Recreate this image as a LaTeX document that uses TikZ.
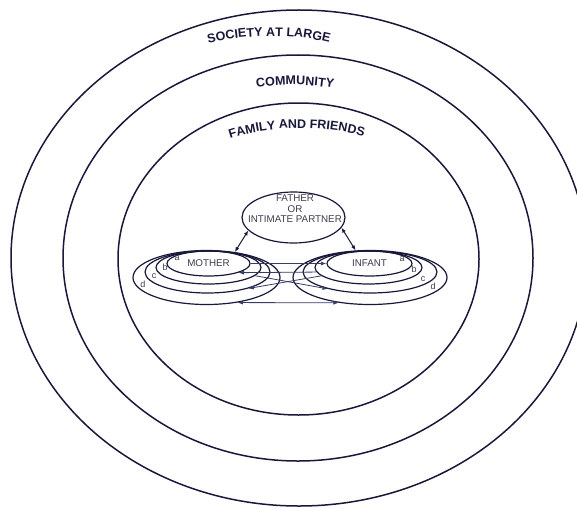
\documentclass[tikz,border=0pt]{standalone}
\usepackage{fontspec}
\setmainfont{Liberation Sans}
\usetikzlibrary{shapes,arrows.meta,positioning,decorations.text}
\definecolor{inknavy}{RGB}{24,24,58}
\definecolor{textgray}{RGB}{60,60,75}
\definecolor{linkgray}{RGB}{55,60,100}

\begin{document}
\begin{tikzpicture}[x=1pt,y=-1pt,
    ring/.style={ellipse, draw=inknavy, line width=1.5pt, inner sep=0pt},
    level/.style={ellipse, draw=inknavy, line width=1.2pt, inner sep=0pt,
                  font=\fontsize{9.8}{11}\selectfont, text=textgray},
    tag/.style={font=\fontsize{9}{10}\selectfont, text=textgray, inner sep=0pt},
    link/.style={draw=linkgray, line width=0.8pt, >={Latex[length=5.5pt,width=4pt]}},
    bond/.style={draw=inknavy, line width=1pt, <->, >={Latex[length=5pt,width=4pt]}},
    title/.style={decorate, decoration={text along path, text align=center,
                  text color=inknavy, text={|\fontsize{12.5}{14}\selectfont\bfseries|#1}}}]
    \useasboundingbox (0,0) rectangle (577,508);

    \node[ring, minimum width=576pt, minimum height=496pt] (society) at (299,258) {};
    \node[ring, minimum width=470pt, minimum height=406pt] (community) at (298,258) {};
    \node[ring, minimum width=361pt, minimum height=312pt] (family) at (298.5,259) {};

    \path[title=SOCIETY AT LARGE] (200,46) .. controls (240,33) and (300,33) .. (338,45);
    \path[title=COMMUNITY] (245,90) .. controls (275,83) and (315,83) .. (345,91);
    \path[title=FAMILY AND FRIENDS] (208,148) .. controls (256,122) and (339,122) .. (386,145);

    \node[ring, line width=1.2pt, minimum width=103pt, minimum height=51pt] (father) at (293.5,217.5) {};
    \node[align=center, font=\fontsize{9.8}{10.5}\selectfont, text=textgray, inner sep=0pt]
        (fathertext) at (295,209) {FATHER\\OR\\INTIMATE PARTNER};

    \node[level, minimum width=83pt, minimum height=25pt] (mothera) at (208.5,263.5) {MOTHER};
    \foreach \lvl/\cx/\cy/\w/\h in {b/208.5/267.5/105pt/33pt, c/207.5/272/125pt/42pt, d/206.5/277.5/147pt/54pt}
        \node[level, minimum width=\w, minimum height=\h] (mother\lvl) at (\cx,\cy) {};
    \node[level, minimum width=85pt, minimum height=25pt] (infanta) at (369.5,263.5) {INFANT};
    \foreach \lvl/\cx/\cy/\w/\h in {b/368.5/267.5/107pt/33pt, c/370/272/134pt/42pt, d/370/277.5/154pt/54pt}
        \node[level, minimum width=\w, minimum height=\h] (infant\lvl) at (\cx,\cy) {};

    \foreach \lvl/\x/\y in {a/177/258, b/165/267, c/154/276, d/143/284}
        \node[tag] (mothertag\lvl) at (\x,\y) {\lvl};
    \foreach \lvl/\x/\y in {a/402/259, b/414/269, c/423/279, d/433/286}
        \node[tag] (infanttag\lvl) at (\x,\y) {\lvl};

    \draw[bond] (father.196) -- (motherd.42);
    \draw[bond] (father.-12) -- (infantd.118);

    \draw[link, ->] (mothera.east) -- (infanta.west);
    \draw[link, ->] (infantb.185) -- (mothera.-17);
    \draw[link, ->] (motherb.-10) -- (infantc.202);
    \draw[link, ->] (infantb.190) -- (motherc.-22);
    \draw[link, <->] (motherd.-39) -- (infantd.219);
\end{tikzpicture}
\end{document}
